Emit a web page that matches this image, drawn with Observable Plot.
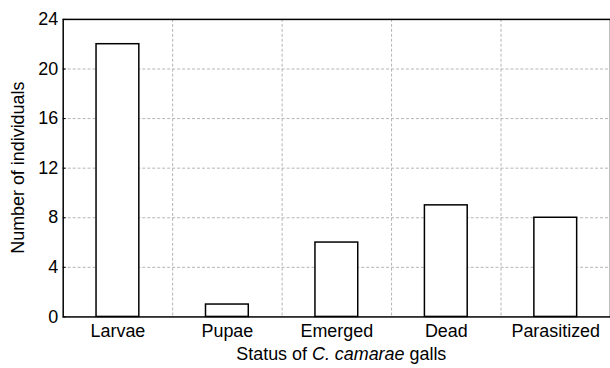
<!DOCTYPE html>
<html>
<head>
<meta charset="utf-8">
<script src="https://cdn.jsdelivr.net/npm/d3@7"></script>
<script src="https://cdn.jsdelivr.net/npm/@observablehq/plot@0.6"></script>
<style>
  html, body { margin: 0; padding: 0; background: #fff; overflow: hidden; }
  #chart svg { display: block; }
</style>
</head>
<body>
<div id="chart"></div>
<script>
const categories = ["Larvae", "Pupae", "Emerged", "Dead", "Parasitized"];
const counts = [22, 1, 6, 9, 8];
const yTicks = [0, 4, 8, 12, 16, 20, 24];
const yLabel = "Number of individuals";
const xLabelParts = [["Status of ", false], ["C. camarae", true], [" galls", false]];

const data = categories.map((c, i) => ({category: c, count: counts[i]}));

const W = 613, H = 368;
const mL = 63, mR = 0, mT = 19, mB = 50;
const band = (W - mL - mR) / categories.length;
const font = "'Liberation Sans', Arial, Helvetica, sans-serif";

const chart = Plot.plot({
  width: W,
  height: H,
  marginLeft: mL,
  marginRight: mR,
  marginTop: mT,
  marginBottom: mB,
  style: {fontFamily: font, background: "white", color: "black"},
  x: {domain: categories, padding: 0},
  y: {domain: [0, 24], ticks: yTicks},
  marks: [
    Plot.ruleY(yTicks.slice(1, -1), {stroke: "#b4b4b4", strokeDasharray: "3,2", strokeWidth: 1}),
    Plot.ruleX(categories.slice(1), {x: d => d, dx: -band / 2, stroke: "#b4b4b4", strokeDasharray: "3,2", strokeWidth: 1}),
    Plot.barY(data, {x: "category", y: "count", fill: "white", stroke: "black", strokeWidth: 1.5, insetLeft: 33.5, insetRight: 33.5}),
    Plot.frame({stroke: "black", strokeWidth: 1.5}),
    Plot.axisY({ticks: yTicks, tickSize: -3, tickFormat: () => "", label: null, strokeWidth: 1}),
    Plot.axisY({ticks: yTicks, tickSize: 0, tickPadding: 5, fontSize: 18, label: null}),
    Plot.axisX({tickSize: 0, tickPadding: 7, fontSize: 18, label: null})
  ]
});

document.getElementById("chart").appendChild(chart);

const svg = d3.select(chart);
const xs = chart.scale("x");
const ys = chart.scale("y");
const cx = (xs.range[0] + xs.range[1]) / 2 + 5;
const cy = (ys.range[0] + ys.range[1]) / 2;

// x-axis title with italic species name
const t = svg.append("text")
  .attr("x", cx)
  .attr("y", 362)
  .attr("text-anchor", "middle")
  .attr("font-family", font)
  .attr("font-size", 18)
  .attr("fill", "black");
xLabelParts.forEach(([s, it]) => {
  t.append("tspan").attr("font-style", it ? "italic" : "normal").text(s);
});

// y-axis title
svg.append("text")
  .attr("transform", `translate(24,${cy}) rotate(-90)`)
  .attr("text-anchor", "middle")
  .attr("font-family", font)
  .attr("font-size", 18)
  .attr("fill", "black")
  .text(yLabel);
</script>
</body>
</html>
